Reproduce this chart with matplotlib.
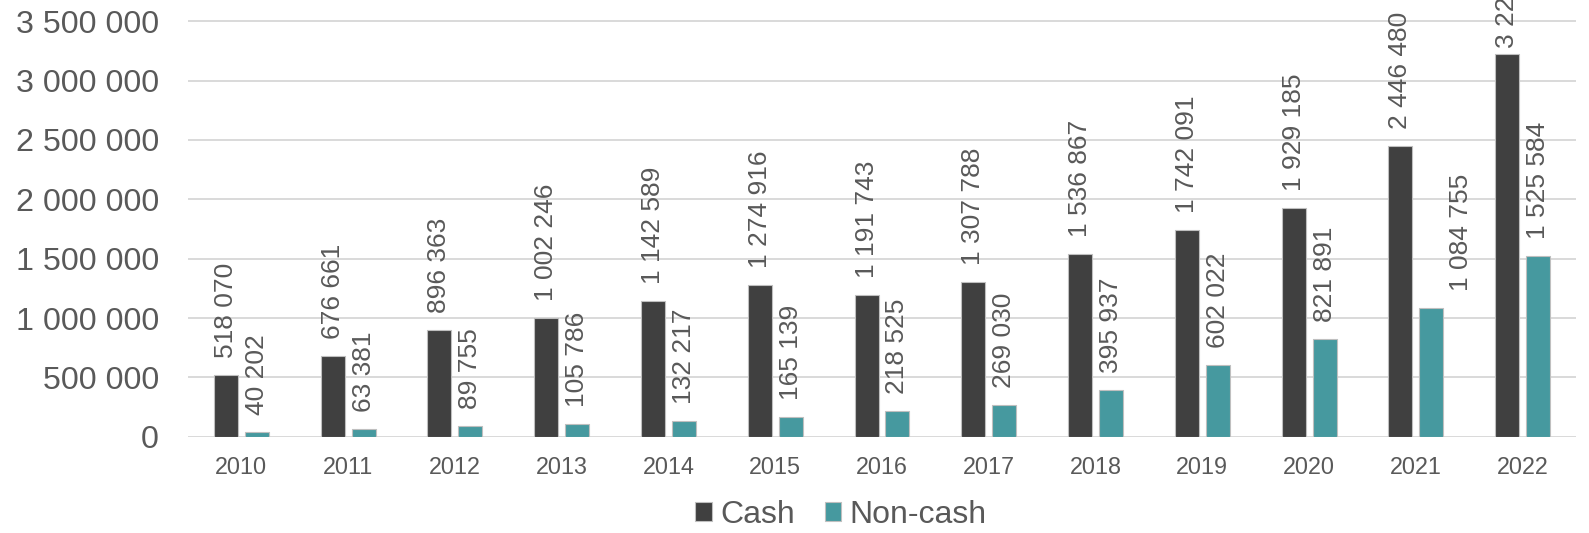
import numpy as np
import matplotlib.pyplot as plt
from matplotlib.ticker import FuncFormatter

# -----------------------------
# Data
# -----------------------------
years = ["2010", "2011", "2012", "2013", "2014", "2015", "2016",
         "2017", "2018", "2019", "2020", "2021", "2022"]
cash = [518070, 676661, 896363, 1002246, 1142589, 1274916, 1191743,
        1307788, 1536867, 1742091, 1929185, 2446480, 3227000]
non_cash = [40202, 63381, 89755, 105786, 132217, 165139, 218525,
            269030, 395937, 602022, 821891, 1084755, 1525584]

cash_color = "#404040"
noncash_color = "#46999f"
text_color = "#595959"
grid_color = "#d9d9d9"

plt.rcParams['font.family'] = ['Liberation Sans', 'DejaVu Sans']


def spaced(v):
    return f"{int(v):,}".replace(",", " ")


# -----------------------------
# Create plot
# -----------------------------
fig = plt.figure(figsize=(15.89, 5.33), dpi=100)
ax = fig.add_axes([188 / 1589, 0.1805, (1576 - 188) / 1589, 0.891])

x = np.arange(len(years))
w = 0.225
off = 0.145
bars_c = ax.bar(x - off, cash, w, color=cash_color, edgecolor="#bfbfbf",
                linewidth=0.8, label="Cash", zorder=3)
bars_n = ax.bar(x + off, non_cash, w, color=noncash_color, edgecolor="#bfbfbf",
                linewidth=0.8, label="Non-cash", zorder=3)

# data labels, rotated like in the original
# a couple of labels were nudged in the source chart (pixel offsets)
nudges_c = {12: (0, 6)}
nudges_n = {11: (30, 17)}
for bars, vals, nudge in ((bars_c, cash, nudges_c), (bars_n, non_cash, nudges_n)):
    for i, (b, v) in enumerate(zip(bars, vals)):
        ax.annotate(spaced(v), (b.get_x() + b.get_width() / 2, v),
                    xytext=nudge.get(i, (0, 17)), textcoords="offset pixels",
                    rotation=90, ha="center", va="bottom",
                    fontsize=19, color=text_color, annotation_clip=False)

ax.set_xlim(-0.5, len(years) - 0.5)
ax.set_ylim(0, 4000000)
ax.set_yticks(np.arange(0, 3500001, 500000))
ax.yaxis.set_major_formatter(FuncFormatter(lambda v, p: spaced(v)))
ax.set_xticks(x)
ax.set_xticklabels(years)

ax.tick_params(axis="y", length=0, pad=21, labelsize=23.2, labelcolor=text_color)
ax.tick_params(axis="x", length=0, pad=14, labelsize=16.8, labelcolor=text_color)

ax.grid(axis="y", color=grid_color, linewidth=1.4, zorder=0)
for s in ax.spines.values():
    s.set_visible(False)

fig.legend(handles=[bars_c, bars_n], labels=["Cash", "Non-cash"],
           loc="center", bbox_to_anchor=(841 / 1589, 0.034), ncol=2,
           frameon=False, fontsize=23, labelcolor=text_color,
           handlelength=0.52, handleheight=0.52, handletextpad=0.26,
           columnspacing=0.94, borderpad=0.1)

plt.savefig("out.png", dpi=100)
plt.close()
